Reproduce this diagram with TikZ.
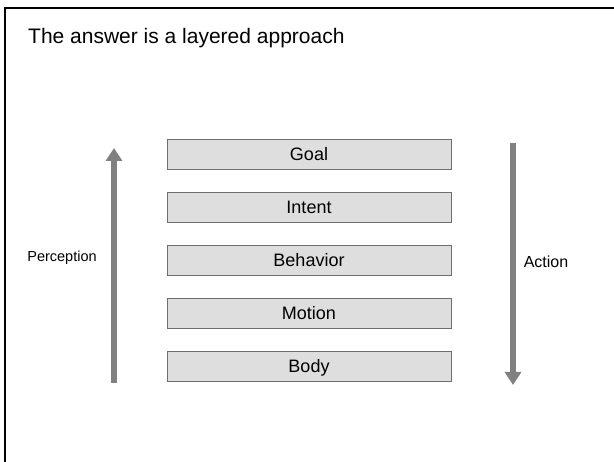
\documentclass[tikz,border=0pt]{standalone}
\usepackage{fontspec}
\setmainfont{Liberation Sans}
\usetikzlibrary{arrows.meta}
\definecolor{boxfill}{HTML}{DEDEDE}
\definecolor{boxline}{HTML}{6E6E6E}
\definecolor{arrowgray}{HTML}{808080}
\begin{document}
\begin{tikzpicture}[x=1pt,y=-1pt,
  layer/.style={draw=boxline,line width=0.9pt,fill=boxfill,minimum width=284pt,minimum height=30pt,inner sep=0pt,text height=13pt,text depth=0pt,font=\fontsize{18}{20}\selectfont},
  bigarrow/.style={draw=arrowgray,line width=6pt,-{Triangle[length=13pt,width=16pt]}},
  sidelabel/.style={font=\fontsize{14.5}{16}\selectfont,inner sep=0pt}]
\useasboundingbox (0,0) rectangle (614,462);
\draw[line width=2.2pt,line cap=rect] (614,8) -- (5,8) -- (5,462);
\node[anchor=base west,inner sep=0pt,font=\fontsize{21}{24}\selectfont] (title) at (28,44) {The answer is a layered approach};
\node[layer] (goal) at (309,154) {Goal};
\node[layer] (intent) at (309,207) {Intent};
\node[layer] (behavior) at (309,260) {Behavior};
\node[layer] (motion) at (309,313) {Motion};
\node[layer] (body) at (309,366) {Body};
\coordinate (pbot) at (114,383);
\coordinate (ptop) at (114,148);
\coordinate (atop) at (513,143);
\coordinate (abot) at (513,385);
\draw[bigarrow] (pbot) -- (ptop);
\draw[bigarrow] (atop) -- (abot);
\node[sidelabel] (perception) at (62,258) {Perception};
\node[sidelabel,font=\fontsize{16}{18}\selectfont] (action) at (546,262) {Action};
\end{tikzpicture}
\end{document}
